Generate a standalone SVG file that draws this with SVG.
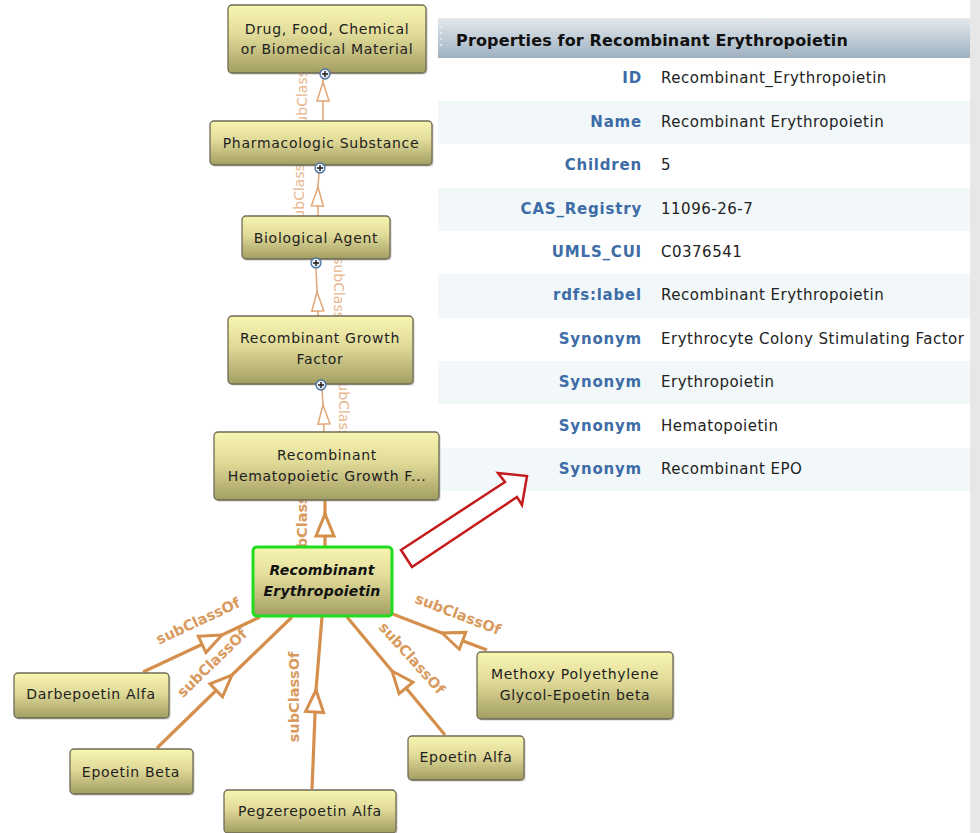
<svg xmlns="http://www.w3.org/2000/svg" width="980" height="833" viewBox="0 0 980 833">
  <style>
    .node rect.box { fill: url(#nodeFill); stroke: #6e6b55; stroke-width: 1.3; }
    .node rect.shadow { fill: #8a8a80; opacity: 0.45; }
    .node text { font-family: "DejaVu Sans", Verdana, sans-serif; font-size: 14px; letter-spacing: 0.7px; fill: #1e1e1e; text-anchor: middle; }
    .node.focus rect.box { stroke: #1fdc1f; stroke-width: 3; }
    .node.focus text { font-weight: bold; font-style: italic; fill: #111; letter-spacing: 0.2px; }
    .edge { fill: none; stroke: #d58f4c; stroke-width: 3.2; }
    .edge.thin { stroke: #e2a574; stroke-width: 1.5; }
    .elabel { font-family: "DejaVu Sans", Verdana, sans-serif; font-size: 14.5px; font-weight: bold; fill: #d99a5e; text-anchor: middle; }
    .elabel.faint { font-weight: normal; fill: #e8b68c; font-size: 14px; }
    .btn circle { fill: url(#btnFill); stroke: #4a73a0; stroke-width: 1.3; }
    .btn path { stroke: #1a1a1a; stroke-width: 1.4; }
    .key { font-family: "DejaVu Sans", Verdana, sans-serif; font-size: 15px; letter-spacing: 0.8px; font-weight: bold; fill: #3d6ca6; text-anchor: end; }
    .val { font-family: "DejaVu Sans", Verdana, sans-serif; font-size: 15px; letter-spacing: 0.5px; fill: #222; }
    .stripe { fill: #f2f8fa; }
  </style>
  <defs>
    <linearGradient id="nodeFill" x1="0" y1="0" x2="0" y2="1">
      <stop offset="0" stop-color="#f8f5b1"/>
      <stop offset="0.45" stop-color="#e0da98"/>
      <stop offset="1" stop-color="#a29d62"/>
    </linearGradient>
    <linearGradient id="headFill" x1="0" y1="0" x2="0" y2="1">
      <stop offset="0" stop-color="#e4e9ed"/>
      <stop offset="1" stop-color="#9eb1c1"/>
    </linearGradient>
    <radialGradient id="btnFill" cx="0.4" cy="0.35" r="0.7">
      <stop offset="0" stop-color="#ffffff"/>
      <stop offset="1" stop-color="#c5d6e8"/>
    </radialGradient>
    <marker id="triThin" markerUnits="userSpaceOnUse" viewBox="-2 -8 24 16" markerWidth="24" markerHeight="16" refX="19" refY="0" orient="auto" overflow="visible">
      <path d="M0,-6 L19,0 L0,6 Z" fill="#fff" stroke="#e2a574" stroke-width="1.5"/>
    </marker>
    <marker id="triThick" markerUnits="userSpaceOnUse" viewBox="-3 -12 30 24" markerWidth="30" markerHeight="24" refX="22" refY="0" orient="auto" overflow="visible">
      <path d="M0,-9 L22,0 L0,9 Z" fill="#fff" stroke="#d58f4c" stroke-width="3"/>
    </marker>
  </defs>

  <!-- page background -->
  <rect x="0" y="0" width="980" height="833" fill="#ffffff"/>
  <rect x="970" y="0" width="10" height="833" fill="#e7e7e7"/>

  <!-- properties table -->
  <g id="properties">
    <rect x="438" y="18" width="532" height="40" fill="url(#headFill)"/>
    <g fill="#eef2f5">
      <circle cx="441" cy="27" r="1"/><circle cx="441" cy="33" r="1"/>
      <circle cx="441" cy="39" r="1"/><circle cx="441" cy="45" r="1"/>
    </g>
    <text x="456" y="46" font-family="DejaVu Sans, Verdana, sans-serif" font-size="16px" letter-spacing="0.15px" font-weight="bold" fill="#111">Properties for Recombinant Erythropoietin</text>
    <rect class="stripe" x="438" y="101" width="532" height="43"/>
    <rect class="stripe" x="438" y="188" width="532" height="43"/>
    <rect class="stripe" x="438" y="274" width="532" height="44"/>
    <rect class="stripe" x="438" y="361" width="532" height="43"/>
    <rect class="stripe" x="438" y="448" width="532" height="43"/>
    <text class="key" x="642" y="83">ID</text>
    <text class="val" x="661" y="83">Recombinant_Erythropoietin</text>
    <text class="key" x="642" y="127">Name</text>
    <text class="val" x="661" y="127">Recombinant Erythropoietin</text>
    <text class="key" x="642" y="170">Children</text>
    <text class="val" x="661" y="170">5</text>
    <text class="key" x="642" y="214">CAS_Registry</text>
    <text class="val" x="661" y="214">11096-26-7</text>
    <text class="key" x="642" y="257">UMLS_CUI</text>
    <text class="val" x="661" y="257">C0376541</text>
    <text class="key" x="642" y="300">rdfs:label</text>
    <text class="val" x="661" y="300">Recombinant Erythropoietin</text>
    <text class="key" x="642" y="344">Synonym</text>
    <text class="val" x="661" y="344">Erythrocyte Colony Stimulating Factor</text>
    <text class="key" x="642" y="387">Synonym</text>
    <text class="val" x="661" y="387">Erythropoietin</text>
    <text class="key" x="642" y="431">Synonym</text>
    <text class="val" x="661" y="431">Hematopoietin</text>
    <text class="key" x="642" y="474">Synonym</text>
    <text class="val" x="661" y="474">Recombinant EPO</text>
  </g>

  <!-- subClassOf connectors (child -> arrow tip -> parent) -->
  <g id="connectors">
    <path class="edge thin" d="M323,121 L323,82 L323,78" marker-mid="url(#triThin)"/>
    <path class="edge thin" d="M318,216 L318,187 L319,172" marker-mid="url(#triThin)"/>
    <path class="edge thin" d="M318,316 L317,292 L316,267" marker-mid="url(#triThin)"/>
    <path class="edge thin" d="M324,432 L323,405 L322,389" marker-mid="url(#triThin)"/>
    <path class="edge" d="M325,547 L325,514 L325,500" marker-mid="url(#triThick)"/>
    <path class="edge" d="M143,672 L222,635 L260,617" marker-mid="url(#triThick)"/>
    <path class="edge" d="M157,748 L232,675 L292,617" marker-mid="url(#triThick)"/>
    <path class="edge" d="M312,789 L316,690 L322,617" marker-mid="url(#triThick)"/>
    <path class="edge" d="M445,735 L392,671 L347,617" marker-mid="url(#triThick)"/>
    <path class="edge" d="M487,650 L442,633 L390,613" marker-mid="url(#triThick)"/>

    <text class="elabel faint" transform="translate(302,93) rotate(-90)" dy="0.35em">subClassOf</text>
    <text class="elabel faint" transform="translate(299,187) rotate(-90)" dy="0.35em">subClassOf</text>
    <text class="elabel faint" transform="translate(339,296) rotate(90)" dy="0.35em">subClassOf</text>
    <text class="elabel faint" transform="translate(344,414) rotate(90)" dy="0.35em">subClassOf</text>
    <text class="elabel" transform="translate(302,522) rotate(-90)" dy="0.35em">subClassOf</text>
    <text class="elabel" transform="translate(198,621) rotate(-25)" dy="0.35em">subClassOf</text>
    <text class="elabel" transform="translate(212,663) rotate(-44)" dy="0.35em">subClassOf</text>
    <text class="elabel" transform="translate(294,697) rotate(-90)" dy="0.35em">subClassOf</text>
    <text class="elabel" transform="translate(412,658) rotate(48)" dy="0.35em">subClassOf</text>
    <text class="elabel" transform="translate(458,614) rotate(21)" dy="0.35em">subClassOf</text>
  </g>

  <!-- class nodes -->
  <g id="node-drug" class="node">
    <rect class="shadow" x="229.5" y="6.5" width="198" height="68" rx="4"/>
    <rect class="box" x="228" y="5" width="198" height="68" rx="4"/>
    <text x="327" y="34">Drug, Food, Chemical</text>
    <text x="327" y="54">or Biomedical Material</text>
    <g class="btn"><circle cx="325" cy="74" r="5"/><path d="M322,74 H328 M325,71 V77"/></g>
  </g>
  <g id="node-pharmacologic" class="node">
    <rect class="shadow" x="211.5" y="122.5" width="222" height="44" rx="4"/>
    <rect class="box" x="210" y="121" width="222" height="44" rx="4"/>
    <text x="321" y="148">Pharmacologic Substance</text>
    <g class="btn"><circle cx="320" cy="168" r="5"/><path d="M317,168 H323 M320,165 V171"/></g>
  </g>
  <g id="node-biological" class="node">
    <rect class="shadow" x="243.5" y="217.5" width="148" height="43" rx="4"/>
    <rect class="box" x="242" y="216" width="148" height="43" rx="4"/>
    <text x="316" y="243">Biological Agent</text>
    <g class="btn"><circle cx="316" cy="263" r="5"/><path d="M313,263 H319 M316,260 V266"/></g>
  </g>
  <g id="node-growth-factor" class="node">
    <rect class="shadow" x="229.5" y="317.5" width="185" height="68" rx="4"/>
    <rect class="box" x="228" y="316" width="185" height="68" rx="4"/>
    <text x="320" y="343">Recombinant Growth</text>
    <text x="320" y="364">Factor</text>
    <g class="btn"><circle cx="321" cy="385" r="5"/><path d="M318,385 H324 M321,382 V388"/></g>
  </g>
  <g id="node-hematopoietic" class="node">
    <rect class="shadow" x="215.5" y="433.5" width="225" height="68" rx="4"/>
    <rect class="box" x="214" y="432" width="225" height="68" rx="4"/>
    <text x="327" y="460">Recombinant</text>
    <text x="327" y="481">Hematopoietic Growth F...</text>
  </g>
  <g id="node-erythropoietin" class="node focus">
    <rect class="box" x="253" y="547" width="139" height="69" rx="4"/>
    <text x="322" y="575">Recombinant</text>
    <text x="322" y="596">Erythropoietin</text>
  </g>
  <g id="node-darbepoetin" class="node">
    <rect class="shadow" x="15.5" y="674.5" width="155" height="45" rx="4"/>
    <rect class="box" x="14" y="673" width="155" height="45" rx="4"/>
    <text x="91" y="699">Darbepoetin Alfa</text>
  </g>
  <g id="node-epoetin-beta" class="node">
    <rect class="shadow" x="71.5" y="750.5" width="123" height="45" rx="4"/>
    <rect class="box" x="70" y="749" width="123" height="45" rx="4"/>
    <text x="131" y="777">Epoetin Beta</text>
  </g>
  <g id="node-pegzerepoetin" class="node">
    <rect class="shadow" x="225.5" y="791.5" width="172" height="43" rx="4"/>
    <rect class="box" x="224" y="790" width="172" height="43" rx="4"/>
    <text x="310" y="816">Pegzerepoetin Alfa</text>
  </g>
  <g id="node-epoetin-alfa" class="node">
    <rect class="shadow" x="409.5" y="737.5" width="116" height="44" rx="4"/>
    <rect class="box" x="408" y="736" width="116" height="44" rx="4"/>
    <text x="466" y="762">Epoetin Alfa</text>
  </g>
  <g id="node-methoxy" class="node">
    <rect class="shadow" x="478.5" y="653.5" width="196" height="67" rx="4"/>
    <rect class="box" x="477" y="652" width="196" height="67" rx="4"/>
    <text x="575" y="679">Methoxy Polyethylene</text>
    <text x="575" y="700">Glycol-Epoetin beta</text>
  </g>

  <!-- pointer from the selected class to its properties -->
  <polygon points="401,550 505,482 498,473 527,476 522,505 517,497 412,567" fill="#ffffff" stroke="#c41c1c" stroke-width="2.5" stroke-linejoin="miter"/>
</svg>
